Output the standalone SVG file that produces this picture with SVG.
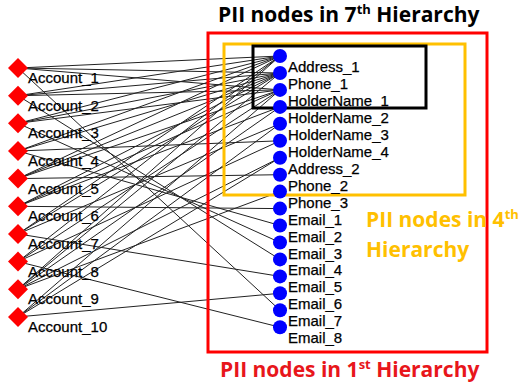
<svg xmlns="http://www.w3.org/2000/svg" width="521" height="386" viewBox="0 0 521 386">
<style>
.e{stroke:#222;stroke-width:1;fill:none}
.acc{fill:#FF0000}
.pii{fill:#0000FF}
.lbl{font-family:"Liberation Sans",Arial,sans-serif;font-size:15px;fill:#000;stroke:#000;stroke-width:0.25}
.box{fill:none;stroke-width:3}
.ttl{font-family:"Open Sans","Noto Sans",sans-serif;font-weight:bold;font-size:21px}
.sup{font-size:13px}
</style>
<defs>
<polygon id="dia" points="0,-10 10,0 0,10 -10,0"/>
</defs>
<rect width="521" height="386" fill="#fff"/>
<g id="connectors" class="e">
<path d="M18,68L280,56M18,68L280,73M18,68L280,89.9M18,68L280,310.3"/>
<path d="M18,95.7L280,56M18,95.7L280,73M18,95.7L280,89.9M18,95.7L280,259.4"/>
<path d="M18,123.3L280,56M18,123.3L280,73M18,123.3L280,89.9M18,123.3L280,242.5"/>
<path d="M18,151L280,56M18,151L280,73M18,151L280,225.5M18,151L280,140.8"/>
<path d="M18,178.6L280,56M18,178.6L280,89.9M18,178.6L280,174.7M18,178.6L280,73"/>
<path d="M18,206.3L280,73M18,206.3L280,106.9M18,206.3L280,208.6M18,206.3L280,89.9"/>
<path d="M18,233.9L280,56M18,233.9L280,123.8M18,233.9L280,276.4M18,233.9L280,73"/>
<path d="M18,261.6L280,89.9M18,261.6L280,140.8M18,261.6L280,327.2M18,261.6L280,56"/>
<path d="M18,289.2L280,106.9M18,289.2L280,157.7M18,289.2L280,191.6M18,289.2L280,73M18,289.2L280,56"/>
<path d="M18,316.9L280,123.8M18,316.9L280,157.7M18,316.9L280,293.3M18,316.9L280,89.9"/>
</g>
<g id="frames">
<rect class="box" x="208" y="33" width="279" height="319" stroke="#FF0000"/>
<rect class="box" x="224" y="44" width="241" height="151" stroke="#FFC000"/>
<rect class="box" x="253" y="46" width="173" height="62" stroke="#000"/>
</g>
<g id="account_1"><use href="#dia" x="18" y="68" class="acc"/><text class="lbl" x="28" y="83">Account_1</text></g>
<g id="account_2"><use href="#dia" x="18" y="95.7" class="acc"/><text class="lbl" x="28" y="110.7">Account_2</text></g>
<g id="account_3"><use href="#dia" x="18" y="123.3" class="acc"/><text class="lbl" x="28" y="138.3">Account_3</text></g>
<g id="account_4"><use href="#dia" x="18" y="151" class="acc"/><text class="lbl" x="28" y="166">Account_4</text></g>
<g id="account_5"><use href="#dia" x="18" y="178.6" class="acc"/><text class="lbl" x="28" y="193.6">Account_5</text></g>
<g id="account_6"><use href="#dia" x="18" y="206.3" class="acc"/><text class="lbl" x="28" y="221.3">Account_6</text></g>
<g id="account_7"><use href="#dia" x="18" y="233.9" class="acc"/><text class="lbl" x="28" y="248.9">Account_7</text></g>
<g id="account_8"><use href="#dia" x="18" y="261.6" class="acc"/><text class="lbl" x="28" y="276.6">Account_8</text></g>
<g id="account_9"><use href="#dia" x="18" y="289.2" class="acc"/><text class="lbl" x="28" y="304.2">Account_9</text></g>
<g id="account_10"><use href="#dia" x="18" y="316.9" class="acc"/><text class="lbl" x="28" y="331.9">Account_10</text></g>
<g id="address_1"><circle class="pii" cx="280" cy="56" r="7"/><text class="lbl" x="288" y="72">Address_1</text></g>
<g id="phone_1"><circle class="pii" cx="280" cy="73" r="7"/><text class="lbl" x="288" y="89">Phone_1</text></g>
<g id="holdername_1"><circle class="pii" cx="280" cy="89.9" r="7"/><text class="lbl" x="288" y="105.9">HolderName_1</text></g>
<g id="holdername_2"><circle class="pii" cx="280" cy="106.9" r="7"/><text class="lbl" x="288" y="122.9">HolderName_2</text></g>
<g id="holdername_3"><circle class="pii" cx="280" cy="123.8" r="7"/><text class="lbl" x="288" y="139.8">HolderName_3</text></g>
<g id="holdername_4"><circle class="pii" cx="280" cy="140.8" r="7"/><text class="lbl" x="288" y="156.8">HolderName_4</text></g>
<g id="address_2"><circle class="pii" cx="280" cy="157.7" r="7"/><text class="lbl" x="288" y="173.7">Address_2</text></g>
<g id="phone_2"><circle class="pii" cx="280" cy="174.7" r="7"/><text class="lbl" x="288" y="190.7">Phone_2</text></g>
<g id="phone_3"><circle class="pii" cx="280" cy="191.6" r="7"/><text class="lbl" x="288" y="207.6">Phone_3</text></g>
<g id="email_1"><circle class="pii" cx="280" cy="208.6" r="7"/><text class="lbl" x="288" y="224.6">Email_1</text></g>
<g id="email_2"><circle class="pii" cx="280" cy="225.5" r="7"/><text class="lbl" x="288" y="241.5">Email_2</text></g>
<g id="email_3"><circle class="pii" cx="280" cy="242.5" r="7"/><text class="lbl" x="288" y="258.5">Email_3</text></g>
<g id="email_4"><circle class="pii" cx="280" cy="259.4" r="7"/><text class="lbl" x="288" y="275.4">Email_4</text></g>
<g id="email_5"><circle class="pii" cx="280" cy="276.4" r="7"/><text class="lbl" x="288" y="292.4">Email_5</text></g>
<g id="email_6"><circle class="pii" cx="280" cy="293.3" r="7"/><text class="lbl" x="288" y="309.3">Email_6</text></g>
<g id="email_7"><circle class="pii" cx="280" cy="310.3" r="7"/><text class="lbl" x="288" y="326.3">Email_7</text></g>
<g id="email_8"><circle class="pii" cx="280" cy="327.2" r="7"/><text class="lbl" x="288" y="343.2">Email_8</text></g>
<g id="titles">
<text class="ttl" x="218" y="22" fill="#000">PII nodes in 7<tspan class="sup" dy="-8">th</tspan><tspan dy="8"> Hierarchy</tspan></text>
<text class="ttl" x="220" y="377" fill="#E8161B">PII nodes in 1<tspan class="sup" dy="-8">st</tspan><tspan dy="8"> Hierarchy</tspan></text>
<text class="ttl" x="366" y="227" fill="#FFC000">PII nodes in 4<tspan class="sup" dy="-8">th</tspan></text>
<text class="ttl" x="366" y="257" fill="#FFC000">Hierarchy</text>
</g>
</svg>
